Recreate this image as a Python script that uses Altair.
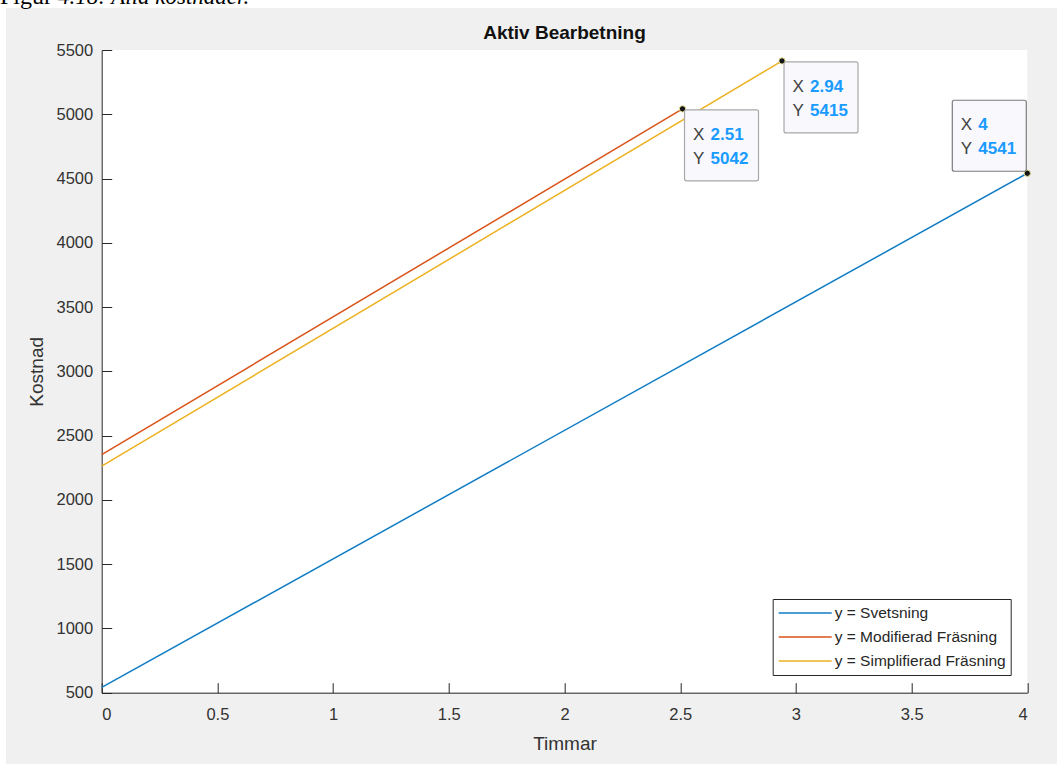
import altair as alt
import pandas as pd

# ---------------- data ----------------
series_names = ["y = Svetsning", "y = Modifierad Fräsning", "y = Simplifierad Fräsning"]
series_colors = ["#0f7cc4", "#D95319", "#EDB120"]
x_start = [0, 0, 0]
x_end = [4, 2.51, 2.94]
y_start = [541, 2352, 2262]
y_end = [4541, 5042, 5415]

tip_x = [2.51, 2.94, 4]
tip_y = [5042, 5415, 4541]
tip_xlabel = ["2.51", "2.94", "4"]
tip_ylabel = ["5042", "5415", "4541"]

x_ticks = [0, 0.5, 1, 1.5, 2, 2.5, 3, 3.5, 4]
y_ticks = [500, 1000, 1500, 2000, 2500, 3000, 3500, 4000, 4500, 5000, 5500]

chart_title = "Aktiv Bearbetning"
x_title = "Timmar"
y_title = "Kostnad"
caption_a = "Figur"
caption_b = "4.18: Alla kostnader."

# ---------------- layout ----------------
PL, PT, PR, PB = 101.7, 50, 29.7, 71.3
W = 1057 - PL - PR
H = 764 - PT - PB
FONT = "Liberation Sans"
TXT = "#262626"

rows = []
for n, xs, xe, ys, ye in zip(series_names, x_start, x_end, y_start, y_end):
    rows.append({"series": n, "x": xs, "y": ys})
    rows.append({"series": n, "x": xe, "y": ye})
lines_df = pd.DataFrame(rows)

xscale = alt.Scale(domain=[0, 4], nice=False, zero=False)
yscale = alt.Scale(domain=[500, 5500], nice=False, zero=False)

lines = alt.Chart(lines_df).mark_line(strokeWidth=1.5).encode(
    x=alt.X("x:Q", scale=xscale,
            axis=alt.Axis(orient="bottom", values=x_ticks, format="~g", tickSize=0,
                          domainColor=TXT, domainWidth=1, labelPadding=14, title=x_title,
                          titlePadding=11, labelFontSize=16.5, titleFontSize=19,
                          labelColor="#333333", titleColor="#333333",
                          titleFontWeight="normal", grid=False,
                          labelFont=FONT, titleFont=FONT)),
    y=alt.Y("y:Q", scale=yscale,
            axis=alt.Axis(orient="left", values=y_ticks, format="d", tickSize=0,
                          domainColor=TXT, domainWidth=1, labelPadding=9, title=y_title,
                          titlePadding=9, labelFontSize=16.5, titleFontSize=19,
                          labelColor="#333333", titleColor="#333333",
                          titleFontWeight="normal", grid=False,
                          labelFont=FONT, titleFont=FONT)),
    color=alt.Color("series:N", scale=alt.Scale(domain=series_names, range=series_colors),
                    legend=alt.Legend(orient="none", legendX=671, legendY=549, title=None,
                                      strokeColor=TXT, fillColor="white", padding=5,
                                      labelFontSize=15.5, labelFont=FONT, labelColor=TXT,
                                      labelLimit=400, clipHeight=18,
                                      symbolType="stroke", symbolSize=2809,
                                      symbolStrokeWidth=1.5, labelOffset=2, rowPadding=6)),
    order=alt.Order("x:Q"),
)

# inward tick marks (second pair of axes, shifted into the plot)
ticks = alt.Chart(lines_df).mark_point(opacity=0).encode(
    x=alt.X("x:Q", scale=xscale,
            axis=alt.Axis(values=x_ticks, orient="bottom", offset=-10, tickSize=10,
                          tickColor=TXT, labels=False, domain=False, title=None, grid=False)),
    y=alt.Y("y:Q", scale=yscale,
            axis=alt.Axis(values=y_ticks, orient="left", offset=-10, tickSize=10,
                          tickColor=TXT, labels=False, domain=False, title=None, grid=False)),
)

# data tips
tip_layers = []
tip_box_offsets = [(2, 1), (2, 1), (-75, -73)]
tip_box_strokes = ["#a8a8a8", "#a8a8a8", "#7a7a7a"]
for i in range(len(tip_x)):
    bx, by = tip_box_offsets[i]
    d = pd.DataFrame({"x": [tip_x[i]], "y": [tip_y[i]],
                      "xl": [tip_xlabel[i]], "yl": [tip_ylabel[i]]})
    base = alt.Chart(d)
    box = base.mark_rect(fill="#f9f9fd", stroke=tip_box_strokes[i], strokeWidth=1.2,
                         cornerRadius=2, xOffset=bx, x2Offset=bx + 74,
                         yOffset=by, y2Offset=by + 71).encode(
        x=alt.X("x:Q", scale=xscale, axis=None), x2="x",
        y=alt.Y("y:Q", scale=yscale, axis=None), y2="y")
    enc = dict(x=alt.X("x:Q", scale=xscale, axis=None),
               y=alt.Y("y:Q", scale=yscale, axis=None))
    lx = base.mark_text(align="left", baseline="middle", dx=bx + 8.5, dy=by + 25,
                        fontSize=17, font=FONT, color="#404040").encode(
        text=alt.value("X"), **enc)
    ly = base.mark_text(align="left", baseline="middle", dx=bx + 8.5, dy=by + 49,
                        fontSize=17, font=FONT, color="#404040").encode(
        text=alt.value("Y"), **enc)
    vx = base.mark_text(align="left", baseline="middle", dx=bx + 26, dy=by + 25,
                        fontSize=17, font=FONT, fontWeight="bold", color="#1a9bff").encode(
        text="xl:N", **enc)
    vy = base.mark_text(align="left", baseline="middle", dx=bx + 26, dy=by + 49,
                        fontSize=17, font=FONT, fontWeight="bold", color="#1a9bff").encode(
        text="yl:N", **enc)
    tip_layers += [box, lx, ly, vx, vy]

tips_df = pd.DataFrame({"x": tip_x, "y": tip_y})
tip_points = alt.Chart(tips_df).mark_point(filled=True, shape="circle", size=40,
                                           fill="#151515", stroke="#e9e49a",
                                           strokeWidth=1, opacity=1).encode(
    x=alt.X("x:Q", scale=xscale, axis=None),
    y=alt.Y("y:Q", scale=yscale, axis=None))

# figure decoration: white strips, clipped caption, title
one = alt.Chart(pd.DataFrame({"a": [0]}))
top_strip = one.mark_rect(fill="white").encode(
    x=alt.value(-PL), x2=alt.value(W + PR), y=alt.value(-PT), y2=alt.value(-PT + 8))
left_strip = one.mark_rect(fill="white").encode(
    x=alt.value(-PL), x2=alt.value(-PL + 6), y=alt.value(-PT), y2=alt.value(H + PB))
cap1 = one.mark_text(align="left", baseline="alphabetic", font="Liberation Serif",
                     fontSize=24, color="black").encode(
    x=alt.value(0 - PL), y=alt.value(4 - PT), text=alt.value(caption_a))
cap2 = one.mark_text(align="left", baseline="alphabetic", font="Liberation Serif",
                     fontStyle="italic", fontSize=23, color="black").encode(
    x=alt.value(58 - PL), y=alt.value(4 - PT), text=alt.value(caption_b))
title_mark = one.mark_text(align="center", baseline="middle", font=FONT, fontSize=19,
                           fontWeight="bold", color="#111111").encode(
    x=alt.value(W / 2), y=alt.value(33 - PT), text=alt.value(chart_title))

chart = alt.layer(
    top_strip, left_strip, cap1, cap2, title_mark, lines, ticks, tip_points, *tip_layers
).resolve_axis(x="independent", y="independent").properties(
    width=W, height=H,
    autosize="none",
    padding={"left": PL, "top": PT, "right": PR, "bottom": PB},
    background="#f0f0f0",
).configure_view(stroke=None, fill="white")

chart.save("out.html", embed_options={"renderer": "svg", "actions": False})
